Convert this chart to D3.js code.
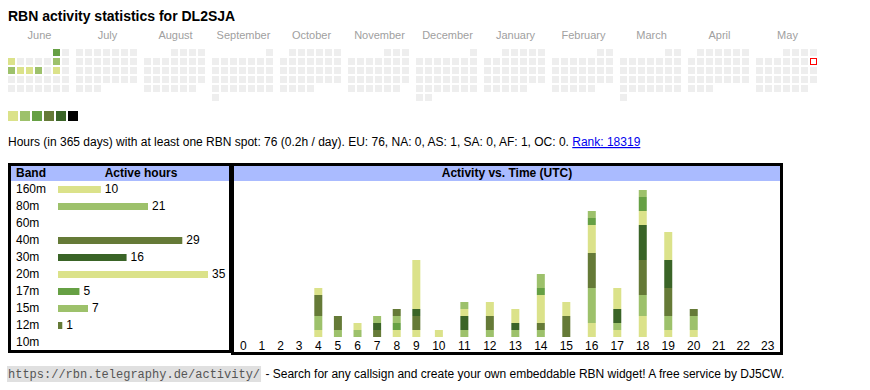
<!DOCTYPE html>
<html><head><meta charset="utf-8">
<script src="https://cdn.jsdelivr.net/npm/d3@7"></script>
<style>
html,body{margin:0;padding:0;background:#fff;}
text{font-family:"Liberation Sans",Arial,sans-serif;}
text.mono{font-family:"Liberation Mono","Courier New",monospace;}
</style></head>
<body><svg id="c" width="870" height="390"></svg>
<script>
// ---------- data ----------
const title = "RBN activity statistics for DL2SJA";
const monthNames = ["June","July","August","September","October","November","December","January","February","March","April","May"];
const calStart = "2024-06-01";
const calEnd = "2025-06-01";
const today = "2025-05-11";
const activeDays = ["2024-06-01","2024-06-03","2024-06-08","2024-06-10","2024-06-11","2024-06-12","2024-06-13","2024-06-15"];
const activeLevels = [3,1,2,2,1,1,2,1];
const levelColors = ["#dbe28a","#9dc16b","#66a044","#657a37","#3a6427","#000000"];
const infoText = "Hours (in 365 days) with at least one RBN spot: 76 (0.2h / day). EU: 76, NA: 0, AS: 1, SA: 0, AF: 1, OC: 0. ";
const rankText = "Rank: 18319";
const bands = ["160m","80m","60m","40m","30m","20m","17m","15m","12m","10m"];
const bandHours = [10,21,0,29,16,35,5,7,1,0];
const bandColors = ["#dbe28a","#9dc16b","#66a044","#657a37","#3a6427","#dbe28a","#66a044","#9dc16b","#657a37","#3a6427"];
const hourLabels = ["0","1","2","3","4","5","6","7","8","9","10","11","12","13","14","15","16","17","18","19","20","21","22","23"];
const h160 = [0,0,0,0,1,0,0,0,0,1,0,0,0,0,0,0,2,1,3,1,1,0,0,0];
const h80  = [0,0,0,0,2,1,1,0,0,0,0,1,1,1,1,0,5,1,3,2,2,0,0,0];
const h60  = [0,0,0,0,0,0,0,0,0,0,0,0,0,0,0,0,0,0,0,0,0,0,0,0];
const h40  = [0,0,0,0,3,2,0,1,0,2,0,0,2,0,1,3,5,0,5,4,1,0,0,0];
const h30  = [0,0,0,0,0,0,0,1,0,1,0,2,0,1,0,0,0,2,5,4,0,0,0,0];
const h20  = [0,0,0,0,1,0,1,0,1,7,1,1,2,2,4,2,4,3,2,4,0,0,0,0];
const h17  = [0,0,0,0,0,0,0,0,1,0,0,0,0,0,1,0,1,0,2,0,0,0,0,0];
const h15  = [0,0,0,0,0,0,0,1,1,0,0,1,0,0,2,0,1,0,1,0,0,0,0,0];
const h12  = [0,0,0,0,0,0,0,0,1,0,0,0,0,0,0,0,0,0,0,0,0,0,0,0];
const h10  = [0,0,0,0,0,0,0,0,0,0,0,0,0,0,0,0,0,0,0,0,0,0,0,0];
const footerUrl = "https://rbn.telegraphy.de/activity/";
const footerText = " - Search for any callsign and create your own embeddable RBN widget! A free service by DJ5CW.";

// ---------- drawing ----------
const svg = d3.select("#c");
const parse = d3.timeParse("%Y-%m-%d");
const fmt = d3.timeFormat("%Y-%m-%d");
const fs = 12;

svg.append("text").attr("x",8).attr("y",21).attr("font-size",14).attr("font-weight","bold").text(title);

// calendar
const levelByDay = new Map(activeDays.map((d,i)=>[d,activeLevels[i]]));
const days = d3.timeDay.range(parse(calStart), parse(calEnd));
const m0 = parse(calStart);
const monthIdx = d => (d.getFullYear()-m0.getFullYear())*12 + d.getMonth()-m0.getMonth();
const monthX = d3.scaleLinear().domain([0,1]).range([8,76]);
const cell = 7, pitch = 9;
svg.append("g").selectAll("text").data(monthNames).join("text")
  .attr("x",(d,i)=>monthX(i)+31.5).attr("y",39).attr("text-anchor","middle")
  .attr("font-size",11).attr("fill","#a0a0a0").text(d=>d);
const cal = svg.append("g");
days.forEach(d=>{
  const m = monthIdx(d);
  const first = new Date(d.getFullYear(), d.getMonth(), 1);
  const fc = (first.getDay()+6)%7;
  const col = (d.getDay()+6)%7;
  const row = Math.floor((d.getDate()-1+fc)/7);
  const key = fmt(d);
  const lv = levelByDay.get(key);
  const isToday = key===today;
  cal.append("rect")
    .attr("x", isToday ? monthX(m)+col*pitch+0.5 : monthX(m)+col*pitch)
    .attr("y", isToday ? 49+row*pitch+0.5 : 49+row*pitch)
    .attr("width", isToday?cell-1:cell).attr("height", isToday?cell-1:cell)
    .attr("fill", lv ? levelColors[lv-1] : (isToday?"#fff":"#eeeeee"))
    .attr("stroke", isToday?"#ff0000":"none").attr("stroke-width",1);
});
// legend
svg.append("g").selectAll("rect").data(levelColors).join("rect")
  .attr("x",(d,i)=>8+i*12).attr("y",111).attr("width",10).attr("height",10).attr("fill",d=>d);

// info line
const info = svg.append("text").attr("x",8).attr("y",146).attr("font-size",12);
info.append("tspan").text(infoText);
info.append("tspan").attr("fill","#0000ee").attr("text-decoration","underline").text(rankText);

// ---------- left table ----------
const blue = "#aabbff";
svg.append("rect").attr("x",11).attr("y",166).attr("width",219).attr("height",15).attr("fill",blue);
svg.append("rect").attr("x",234).attr("y",166).attr("width",546).attr("height",15).attr("fill",blue);
svg.append("text").attr("x",16).attr("y",177).attr("font-size",fs).attr("font-weight","bold").text("Band");
svg.append("text").attr("x",141).attr("y",177).attr("font-size",fs).attr("font-weight","bold").attr("text-anchor","middle").text("Active hours");
svg.append("text").attr("x",507).attr("y",177).attr("font-size",fs).attr("font-weight","bold").attr("text-anchor","middle").text("Activity vs. Time (UTC)");

const rowY = d3.scalePoint().domain(bands).range([193, 346]);
const xh = d3.scaleLinear().domain([0, d3.max(bandHours)]).range([58, 208]);
const rows = svg.append("g").selectAll("g").data(bands).join("g");
rows.append("text").attr("x",16).attr("y",d=>rowY(d)).attr("font-size",fs).text(d=>d);
rows.each(function(b,i){
  if(bandHours[i]>0){
    const g = d3.select(this);
    g.append("rect").attr("x",xh(0)).attr("y",rowY(b)-7).attr("width",xh(bandHours[i])-xh(0)).attr("height",7).attr("fill",bandColors[i]);
    g.append("text").attr("x",xh(bandHours[i])+4).attr("y",rowY(b)).attr("font-size",fs).text(bandHours[i]);
  }
});

// ---------- right stacked chart ----------
const series = [h160,h80,h60,h40,h30,h20,h17,h15,h12,h10];
const table = hourLabels.map((h,i)=>{const o={hour:h}; bands.forEach((b,j)=>o[b]=series[j][i]); return o;});
const stack = d3.stack().keys(bands)(table);
const totals = table.map(r=>d3.sum(bands,b=>r[b]));
// auto-table-like column widths: wider for two-digit labels, slightly wider where a bar sits
const barW = 8, colBase = 19, perDigit = 6, barExtra = 1;
const widths = hourLabels.map((h,i)=>colBase + perDigit*(h.length-1) + (totals[i]>0?barExtra:0));
const inner0 = 234, inner1 = 780;
const k = (inner1-inner0)/d3.sum(widths);
let acc = inner0; const centers = widths.map(w=>{const c = acc + w*k/2; acc += w*k; return c;});
const xc = d3.scaleOrdinal().domain(hourLabels).range(centers);
const maxT = d3.max(totals);
const y = d3.scaleLinear().domain([0,maxT]).range([337, 337-7*maxT]);
const sg = svg.append("g");
stack.forEach((layer,j)=>{
  sg.append("g").attr("fill",bandColors[j]).selectAll("rect")
    .data(layer.filter(d=>d[1]>d[0])).join("rect")
    .attr("x",d=>xc(d.data.hour)-barW/2).attr("width",barW)
    .attr("y",d=>y(d[1])).attr("height",d=>y(d[0])-y(d[1]));
});
svg.append("g").selectAll("text").data(hourLabels).join("text")
  .attr("x",d=>xc(d)).attr("y",350).attr("text-anchor","middle").attr("font-size",fs).text(d=>d);

// borders
svg.append("rect").attr("x",9.5).attr("y",164.5).attr("width",221).attr("height",187).attr("fill","none").attr("stroke","#000").attr("stroke-width",3);
svg.append("rect").attr("x",232.5).attr("y",164.5).attr("width",549).attr("height",189).attr("fill","none").attr("stroke","#000").attr("stroke-width",3);

// footer
const fbg = svg.append("rect").attr("x",7).attr("y",366).attr("height",16).attr("fill","#e0e0e0");
const fu = svg.append("text").attr("class","mono").attr("x",8).attr("y",378).attr("font-size",12).attr("fill","#555").text(footerUrl);
const fw = fu.node().getComputedTextLength();
fbg.attr("width",fw+2);
svg.append("text").attr("x",8+fw+2).attr("y",378).attr("font-size",12).attr("xml:space","preserve").text(footerText);
</script></body></html>
